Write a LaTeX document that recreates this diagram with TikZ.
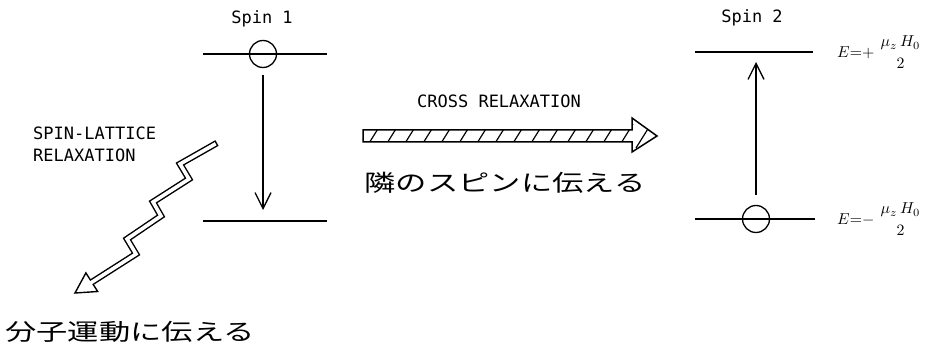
\documentclass[tikz,border=0pt]{standalone}
\usepackage{amsmath}
\usepackage{graphicx}
\usepackage{fontspec}
\newfontfamily\jp{Noto Sans CJK JP}
\newfontfamily\mono{DejaVu Sans Mono}
\usetikzlibrary{arrows.meta}
\begin{document}
\begin{tikzpicture}[x=1pt,y=-1pt,
  lvl/.style={line width=1.5pt},
  dotc/.style={circle,draw,line width=1.3pt,minimum size=27pt,inner sep=0pt},
  arr/.style={line width=1.3pt,-{Straight Barb[length=16pt,width=16pt,line width=1.3pt]}},
  lab/.style={font=\mono\fontsize{17}{20}\selectfont,inner sep=0pt},
  jptext/.style={font=\jp\fontsize{23}{26}\selectfont,inner sep=0pt,xscale=1.36},
  eng/.style={inner sep=0pt,anchor=west}]
\useasboundingbox (0,0) rectangle (926,347);
% ---------- Spin 1 ----------
\node[lab,anchor=base] (sp1) at (262,24) {Spin 1};
\coordinate (u1a) at (203,54); \coordinate (u1b) at (327,54);
\coordinate (d1a) at (203,221); \coordinate (d1b) at (327,221);
\draw[lvl] (u1a) -- (u1b);
\draw[lvl] (d1a) -- (d1b);
\node[dotc] (c1) at (263,54) {};
\coordinate (s1) at (263,75); \coordinate (t1) at (263,210);
\draw[arr] (s1) -- (t1);
% ---------- Spin 2 ----------
\node[lab,anchor=base] (sp2) at (752,23) {Spin 2};
\coordinate (u2a) at (695,52); \coordinate (u2b) at (813,52);
\coordinate (d2a) at (695,219); \coordinate (d2b) at (815,219);
\draw[lvl] (u2a) -- (u2b);
\draw[lvl] (d2a) -- (d2b);
\node[dotc] (c2) at (756,219) {};
\coordinate (s2) at (756,195); \coordinate (t2) at (756,62);
\draw[arr] (s2) -- (t2);
\node[eng] (eu) at (837,52) {\resizebox{85pt}{!}{$\displaystyle E{=}{+}\;\genfrac{}{}{0pt}{}{\mu_z\, H_0}{2}$}};
\node[eng] (el) at (837,219) {\resizebox{85pt}{!}{$\displaystyle E{=}{-}\;\genfrac{}{}{0pt}{}{\mu_z\, H_0}{2}$}};
% ---------- Cross relaxation ----------
\node[lab,anchor=base] (cr) at (499,108) {CROSS RELAXATION};
\coordinate (h1) at (363,130); \coordinate (h2) at (632,130);
\coordinate (h3) at (632,118); \coordinate (h4) at (657,136);
\coordinate (h5) at (632,152); \coordinate (h6) at (632,142);
\coordinate (h7) at (363,142);
\begin{scope}
  \clip (h1) -- (h2) -- (h3) -- (h4) -- (h5) -- (h6) -- (h7) -- cycle;
  \foreach \x in {366,384,...,666}
    \draw[line width=1.2pt] (\x,148) -- (\x+15,124);
\end{scope}
\draw[line width=1.5pt,line join=miter] (h1) -- (h2) -- (h3) -- (h4) -- (h5) -- (h6) -- (h7) -- cycle;
\node[jptext] (jp1) at (505,183) {隣のスピンに伝える};
% ---------- Spin-lattice relaxation ----------
\node[lab,anchor=base west] (sl1) at (33,140) {SPIN-LATTICE};
\node[lab,anchor=base west] (sl2) at (33,162) {RELAXATION};
\coordinate (z0) at (217,143);
\coordinate (z1) at (180,164);
\coordinate (z2) at (189,179);
\coordinate (z3) at (153,202);
\coordinate (z4) at (161,216);
\coordinate (z5) at (127,239);
\coordinate (z6) at (136,254);
\coordinate (zb) at (91.8,282.2);
\coordinate (zi) at (89.3,283.8);
\coordinate (zt) at (75,293);
\coordinate (zc1) at (97.7,291.5);
\coordinate (zc2) at (85.9,272.9);
\draw[line width=6.5pt,line join=miter] (z0) -- (z1) -- (z2) -- (z3) -- (z4) -- (z5) -- (z6) -- (zb);
\draw[line width=1.4pt,fill=white,line join=miter] (zc1) -- (zt) -- (zc2) -- cycle;
\draw[white,line width=3.6pt,line join=miter,shorten <=1.5pt] (z0) -- (z1) -- (z2) -- (z3) -- (z4) -- (z5) -- (z6) -- (zi);
\node[jptext] (jp2) at (130,332) {分子運動に伝える};
\end{tikzpicture}
\end{document}
